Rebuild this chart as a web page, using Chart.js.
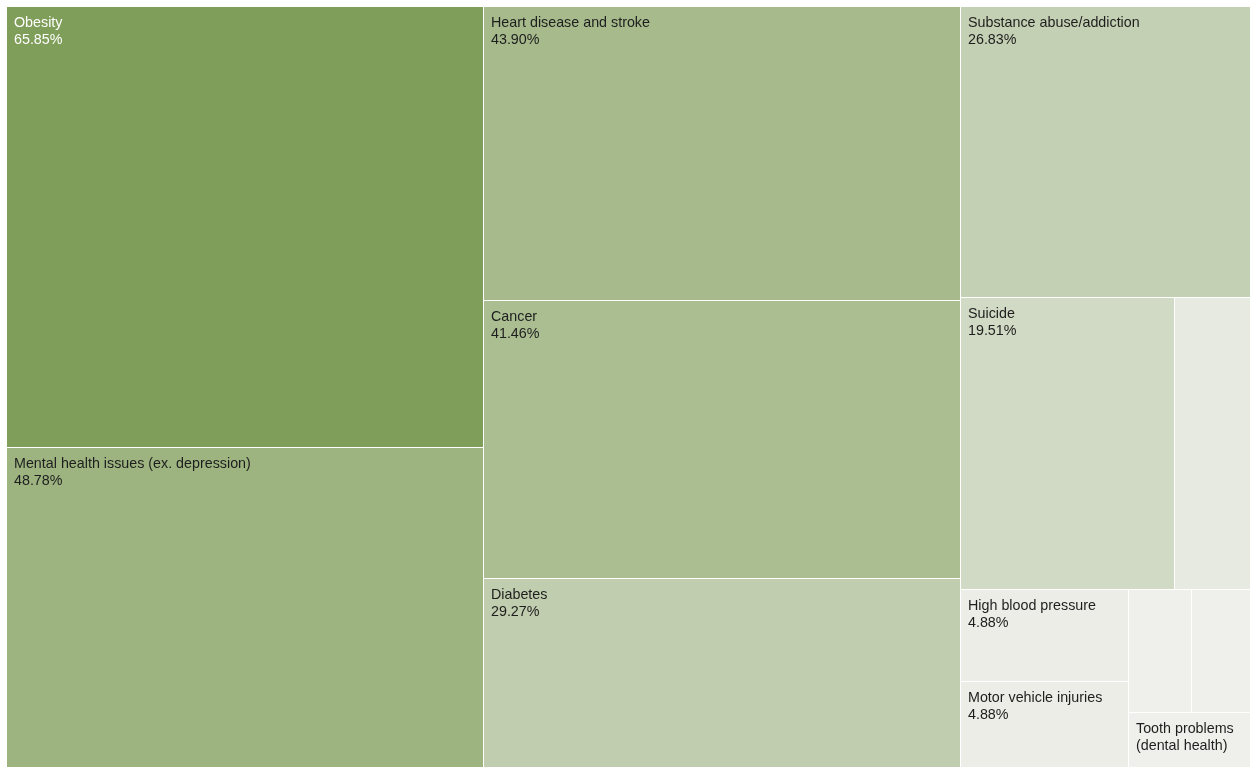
<!DOCTYPE html>
<html>
<head>
<meta charset="utf-8">
<script src="https://cdn.jsdelivr.net/npm/chart.js@4/dist/chart.umd.min.js"></script>
<style>
  html, body { margin: 0; padding: 0; background: #fff; overflow: hidden; }
  #wrap { position: absolute; left: 0; top: 0; width: 1255px; height: 775px; }
</style>
</head>
<body>
<div id="wrap"><canvas id="healthMap"></canvas></div>
<script>
// share of answers per health issue, largest first (unnamed tiles carry no label)
const categories = [
    'Obesity',
    'Mental health issues (ex. depression)',
    'Heart disease and stroke',
    'Cancer',
    'Diabetes',
    'Substance abuse/addiction',
    'Suicide',
    '',
    'High blood pressure',
    'Motor vehicle injuries',
    '',
    '',
    'Tooth problems (dental health)'
];
const shares = [65.85, 48.78, 43.90, 41.46, 29.27, 26.83, 19.51, 7.32, 4.88, 4.88, 2.44, 2.44, 2.44];

const LOW = [239, 240, 236];
const HIGH = [127, 158, 89];
const PHI = (1 + Math.sqrt(5)) / 2;

function shade(v, min, max) {
    let t = max > min ? (v - min) / (max - min) : 1;
    let c = LOW.map((l, i) => Math.round(l + (HIGH[i] - l) * t));
    return c;
}

// squarified layout (golden ratio target), rows are laid out like d3's treemapSquarify
function squarify(values, x0, y0, x1, y1) {
    let out = [];
    let value = values.reduce((a, b) => a + b, 0);
    let n = values.length;
    let i0 = 0, i1 = 0;
    while (i0 < n) {
        let dx = x1 - x0, dy = y1 - y0;
        let sum = values[i1++];
        let minV = sum, maxV = sum;
        let alpha = Math.max(dy / dx, dx / dy) / (value * PHI);
        let beta = sum * sum * alpha;
        let minRatio = Math.max(maxV / beta, beta / minV);
        for (; i1 < n; ++i1) {
            let v = values[i1];
            sum += v;
            if (v < minV) minV = v;
            if (v > maxV) maxV = v;
            beta = sum * sum * alpha;
            let r = Math.max(maxV / beta, beta / minV);
            if (r > minRatio) { sum -= v; break; }
            minRatio = r;
        }
        if (dx < dy) {
            let h = i1 >= n ? dy : dy * sum / value;
            let x = x0;
            for (let k = i0; k < i1; k++) {
                let w = dx * values[k] / sum;
                out.push({ x0: x, y0: y0, x1: x + w, y1: y0 + h });
                x += w;
            }
            y0 += h;
        } else {
            let w = i1 >= n ? dx : dx * sum / value;
            let y = y0;
            for (let k = i0; k < i1; k++) {
                let h = dy * values[k] / sum;
                out.push({ x0: x0, y0: y, x1: x0 + w, y1: y + h });
                y += h;
            }
            x0 += w;
        }
        value -= sum;
        i0 = i1;
    }
    return out;
}

function wrapText(ctx, text, maxW) {
    if (!text) return [];
    let words = text.split(' ');
    let lines = [];
    let cur = '';
    words.forEach(function(w) {
        let test = cur ? cur + ' ' + w : w;
        if (cur && ctx.measureText(test).width > maxW) {
            lines.push(cur);
            cur = w;
        } else {
            cur = test;
        }
    });
    if (cur) lines.push(cur);
    return lines;
}

class TreemapCell extends Chart.Element {
    draw(ctx) {
        ctx.save();
        ctx.fillStyle = this.color;
        ctx.fillRect(this.left, this.top, this.right - this.left - 1, this.bottom - this.top - 1);
        ctx.fillStyle = this.textColor;
        ctx.font = this.font;
        ctx.textBaseline = 'alphabetic';
        ctx.textAlign = 'left';
        this.lines.forEach((t, i) => {
            ctx.fillText(t, this.left + 7, this.top + 20 + i * 17);
        });
        ctx.restore();
    }
}
TreemapCell.id = 'treemapCell';
TreemapCell.defaults = {};

class TreemapController extends Chart.DatasetController {
    parse(start, count) {
        let meta = this._cachedMeta;
        meta._parsed = this.getDataset().data.map(v => ({ x: 0, y: v }));
    }
    getMinMax() {
        return { min: 0, max: 1 };
    }
    update(mode) {
        let meta = this._cachedMeta;
        this.updateElements(meta.data, 0, meta.data.length, mode);
    }
    updateElements(cells, start, count, mode) {
        let meta = this._cachedMeta;
        let xs = meta.xScale, ys = meta.yScale;
        let ds = this.getDataset();
        let labels = this.chart.data.labels;
        let values = ds.data;
        let min = Math.min.apply(null, values), max = Math.max.apply(null, values);
        let tiles = squarify(values,
            xs.getPixelForValue(0), ys.getPixelForValue(0),
            xs.getPixelForValue(1), ys.getPixelForValue(1));
        let ctx = this.chart.ctx;
        let font = ds.fontSize + 'px ' + ds.fontFamily;
        ctx.save();
        ctx.font = font;
        for (let i = start; i < start + count; i++) {
            let t = tiles[i];
            if (!t || !isFinite(t.x0)) continue;
            let left = Math.round(t.x0), right = Math.round(t.x1);
            let top = Math.round(t.y0), bottom = Math.round(t.y1);
            let c = shade(values[i], min, max);
            let lum = (0.299 * c[0] + 0.587 * c[1] + 0.114 * c[2]) / 255;
            let lines = [];
            let label = labels[i];
            if (label) {
                let maxW = right - left - 14;
                let words = wrapText(ctx, label, maxW);
                let fits = words.every(w => ctx.measureText(w).width <= maxW);
                if (fits) {
                    lines = words.concat([values[i].toFixed(2) + '%']);
                    let need = n => 20 + 17 * (n - 1) + 10;
                    if (need(lines.length) > bottom - top) lines = words;
                    if (need(lines.length) > bottom - top) lines = [];
                }
            }
            Object.assign(cells[i], {
                x: (left + right) / 2,
                y: (top + bottom) / 2,
                left: left, right: right, top: top, bottom: bottom,
                color: 'rgb(' + c.join(',') + ')',
                textColor: lum < 0.6 ? '#ffffff' : '#1e1e1e',
                font: font,
                lines: lines
            });
        }
        ctx.restore();
    }
    draw() {
        let ctx = this.chart.ctx;
        this._cachedMeta.data.forEach(cell => cell.draw(ctx));
    }
}
TreemapController.id = 'treemap';
TreemapController.defaults = {
    datasetElementType: false,
    dataElementType: 'treemapCell'
};

Chart.register(TreemapController, TreemapCell);

window.onload = function() {
    let ctx = document.getElementById('healthMap').getContext('2d');
    new Chart(ctx, {
        type: 'treemap',
        data: {
            labels: categories,
            datasets: [{
                data: shares,
                fontSize: 14.3,
                fontFamily: '"Liberation Sans", Arial, sans-serif'
            }]
        },
        options: {
            responsive: true,
            maintainAspectRatio: false,
            animation: false,
            events: [],
            layout: { padding: { left: 7, top: 7, right: 0, bottom: 0 } },
            scales: {
                x: { type: 'linear', display: false, min: 0, max: 1 },
                y: { type: 'linear', display: false, min: 0, max: 1, reverse: true }
            },
            plugins: {
                legend: { display: false },
                tooltip: { enabled: false }
            }
        }
    });
};
</script>
</body>
</html>
